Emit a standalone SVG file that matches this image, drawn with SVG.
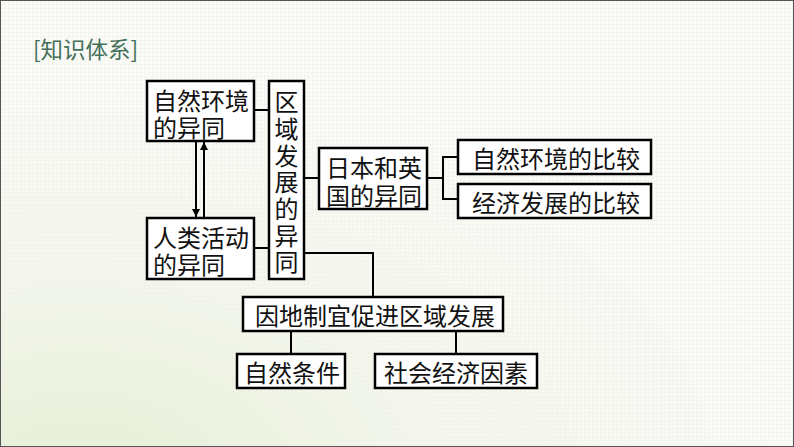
<svg xmlns="http://www.w3.org/2000/svg" width="794" height="447" viewBox="0 0 794 447">
<defs>
<radialGradient id="bg" cx="0.1" cy="1.05" r="0.9">
<stop offset="0" stop-color="#e6efd2"/>
<stop offset="0.45" stop-color="#f4f7ec"/>
<stop offset="1" stop-color="#fbfbf8"/>
</radialGradient>
<pattern id="grid" width="4" height="4" patternUnits="userSpaceOnUse">
<path d="M0 0.5H4M0.5 0V4" stroke="#e9ece4" stroke-width="0.6" fill="none"/>
</pattern>
<marker id="ah" viewBox="0 0 10 10" refX="10" refY="5" markerWidth="12" markerHeight="8" markerUnits="userSpaceOnUse" orient="auto">
<path d="M0 0L10 5L0 10z" fill="#000"/>
</marker>
</defs>
<style>
.box{fill:#fff;stroke:#000;stroke-width:2.5}
.t{font-family:"Noto Sans CJK SC","Noto Sans CJK JP",sans-serif;font-size:24px;fill:#111;dominant-baseline:central}
.m{font-family:"Liberation Sans","Noto Sans CJK SC","Noto Sans CJK JP",sans-serif}
.c{text-anchor:middle}
.v{writing-mode:vertical-rl;letter-spacing:2.7px}
.ln{fill:none;stroke:#000;stroke-width:2}
</style>
<rect width="794" height="447" fill="url(#bg)"/>
<rect width="794" height="447" fill="url(#grid)" opacity="0.6"/>
<rect x="0.5" y="0.5" width="793" height="446" fill="none" stroke="#555" stroke-width="1"/>
<text x="33" y="48" style="font-family:'Noto Sans CJK SC',sans-serif;font-size:22.5px;fill:#44705a;dominant-baseline:central">[知识体系]</text>

<g id="connectors">
<path class="ln" d="M254 110H269"/>
<path class="ln" d="M254 248H269"/>
<path class="ln" d="M304 178H319"/>
<path class="ln" d="M304 253H373V297"/>
<path class="ln" d="M427 178H443M458 157H443V199H458"/>
<path class="ln" d="M291 331V354M456 331V354"/>
<path class="ln" d="M196 142V217" marker-end="url(#ah)"/>
<path class="ln" d="M204 217V142" marker-end="url(#ah)"/>
</g>

<g id="n1">
<rect class="box" x="147" y="81" width="107" height="60"/>
<text class="t m"><tspan x="153" y="101">自然环境</tspan><tspan x="153" y="128">的异同</tspan></text>
</g>
<g id="n2">
<rect class="box" x="147" y="218" width="107" height="61"/>
<text class="t m"><tspan x="153" y="238">人类活动</tspan><tspan x="153" y="265">的异同</tspan></text>
</g>
<g id="n3">
<rect class="box" x="269" y="81" width="35" height="198"/>
<text class="t v" x="286.5" y="90">区域发展的异同</text>
</g>
<g id="n4">
<rect class="box" x="319" y="148" width="108" height="61"/>
<text class="t m"><tspan x="326" y="168">日本和英</tspan><tspan x="326" y="196">国的异同</tspan></text>
</g>
<g id="n5">
<rect class="box" x="458" y="140" width="193" height="34"/>
<text class="t c" x="556" y="157">自然环境的比较</text>
</g>
<g id="n6">
<rect class="box" x="458" y="184" width="193" height="34"/>
<text class="t c" x="556" y="201">经济发展的比较</text>
</g>
<g id="n7">
<rect class="box" x="243" y="297" width="260" height="34"/>
<text class="t c" x="375" y="314">因地制宜促进区域发展</text>
</g>
<g id="n8">
<rect class="box" x="237" y="354" width="108" height="34"/>
<text class="t c" x="292" y="371">自然条件</text>
</g>
<g id="n9">
<rect class="box" x="375" y="354" width="162" height="34"/>
<text class="t c" x="456" y="371">社会经济因素</text>
</g>
</svg>
